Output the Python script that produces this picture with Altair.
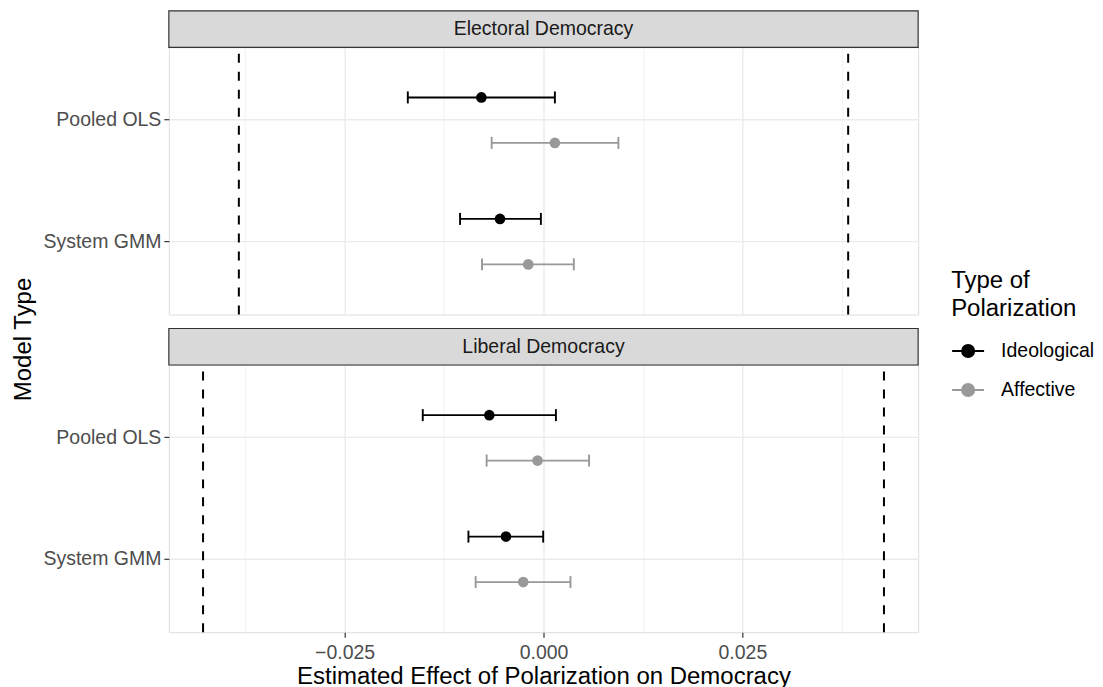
import altair as alt
import pandas as pd

FONT = "Liberation Sans"

panels = ["Electoral Democracy", "Liberal Democracy"]
models = ["Pooled OLS", "System GMM"]
types = ["Ideological", "Affective"]

# rows ordered: panel -> model -> type
row_panel = ["Electoral Democracy"] * 4 + ["Liberal Democracy"] * 4
row_model = ["Pooled OLS", "Pooled OLS", "System GMM", "System GMM"] * 2
row_type = ["Ideological", "Affective"] * 4
est = [-0.00781, 0.00143, -0.00547, -0.00192, -0.00681, -0.00075, -0.00472, -0.00255]
lo = [-0.01706, -0.00652, -0.01049, -0.00773, -0.01518, -0.00715, -0.00944, -0.00853]
hi = [0.00143, 0.00941, -0.00033, 0.00381, 0.00156, 0.00573, -0.00004, 0.00339]

# dashed reference lines per panel
ref_panel = ["Electoral Democracy", "Electoral Democracy", "Liberal Democracy", "Liberal Democracy"]
ref_value = [-0.0383, 0.0383, -0.0428, 0.0428]

x_ticks = [-0.0375, -0.025, -0.0125, 0.0, 0.0125, 0.025, 0.0375]

df = pd.DataFrame({"panel": row_panel, "model": row_model, "type": row_type,
                   "est": est, "lo": lo, "hi": hi})
refs = pd.DataFrame({"panel": ref_panel, "value": ref_value})

W = 750
H = 267.5
SH = 36.5

MINOR = "abs(datum.value) % 0.025 > 0.001"

SYMBOL = "M-1,0L1,0M-0.38,0A0.38,0.38,0,1,0,0.38,0A0.38,0.38,0,1,0,-0.38,0Z"

COLORS = ["#000000", "#999999"]


def make_legend():
    return alt.Legend(
        title=["Type of", "Polarization"], orient="none", legendX=783, legendY=222,
        padding=0,
        symbolType=SYMBOL, symbolSize=1024, symbolStrokeWidth=1.9, symbolOpacity=1,
        labelFontSize=19.5, labelFont=FONT, labelColor="#000000", labelOffset=16,
        titleFontSize=24, titleFont=FONT, titleFontWeight="normal", titleColor="#000000",
        titleLineHeight=28, titlePadding=13, rowPadding=12,
    )


def x_axis(show):
    common = dict(
        values=x_ticks, grid=True, gridColor="#EBEBEB",
        gridWidth={"condition": {"test": MINOR, "value": 0.7}, "value": 1.4},
        domain=False,
    )
    if show:
        return alt.Axis(
            format=".3f", labelExpr=MINOR + " ? '' : datum.label",
            labelFontSize=19.5, labelColor="#4D4D4D", labelFont=FONT, labelPadding=6,
            ticks=True, tickSize=5, tickColor="#333333", tickWidth=1.2,
            tickOpacity={"condition": {"test": MINOR, "value": 0}, "value": 1},
            title="Estimated Effect of Polarization on Democracy",
            titleFontSize=24, titleFont=FONT, titleFontWeight="normal",
            titleColor="#000000", titlePadding=3,
            **common,
        )
    return alt.Axis(labels=False, ticks=False, title=None, minExtent=0, maxExtent=0, **common)


y_axis = alt.Axis(
    bandPosition=0.5, grid=True, gridColor="#EBEBEB", gridWidth=1.4,
    ticks=True, tickSize=5, tickColor="#333333", tickWidth=1.2,
    labelFontSize=19.5, labelColor="#4D4D4D", labelFont=FONT, labelPadding=3,
    domain=False, title=None,
)


def make_panel(pname, show_x):
    data = df[df["panel"] == pname]
    rdata = refs[refs["panel"] == pname]
    sdata = pd.DataFrame({"panel": [pname]})
    xs = alt.Scale(domain=[-0.0471, 0.0471], nice=False, zero=False)
    ax = x_axis(show_x)
    y = alt.Y("model:N", scale=alt.Scale(domain=models, paddingOuter=0.1, paddingInner=0),
              axis=y_axis, title=None)
    yo = alt.YOffset("type:N", scale=alt.Scale(domain=types, paddingOuter=0.336, paddingInner=0))
    col = alt.Color("type:N", scale=alt.Scale(domain=types, range=COLORS), legend=make_legend())

    strip_rect = alt.Chart(sdata).mark_rect(fill="#D9D9D9", stroke="#333333", strokeWidth=1.2).encode(
        x=alt.value(0), x2=alt.value(W), y=alt.value(-SH), y2=alt.value(0))
    strip_text = alt.Chart(sdata).mark_text(fontSize=19.5, font=FONT, color="#1A1A1A").encode(
        text="panel:N", x=alt.value(W / 2), y=alt.value(-SH / 2))

    base = alt.Chart(data)
    vlines = alt.Chart(rdata).mark_rule(color="#000000", strokeWidth=2, strokeDash=[9, 9]).encode(
        x=alt.X("value:Q", scale=xs, axis=ax),
        y=alt.value(H), y2=alt.value(0),
    )
    bars = base.mark_rule(strokeWidth=1.9).encode(
        x=alt.X("lo:Q", scale=xs, axis=ax), x2="hi:Q", y=y, yOffset=yo, color=col)
    cap_lo = base.mark_tick(thickness=1.9, size=12, opacity=1).encode(
        x=alt.X("lo:Q", scale=xs, axis=ax), y=y, yOffset=yo, color=col)
    cap_hi = base.mark_tick(thickness=1.9, size=12, opacity=1).encode(
        x=alt.X("hi:Q", scale=xs, axis=ax), y=y, yOffset=yo, color=col)
    pts = base.mark_point(filled=True, size=113, opacity=1).encode(
        x=alt.X("est:Q", scale=xs, axis=ax), y=y, yOffset=yo, color=col)
    return alt.layer(vlines, bars, cap_lo, cap_hi, pts, strip_rect, strip_text).properties(
        width=W, height=H)


chart = alt.vconcat(make_panel(panels[0], False), make_panel(panels[1], True), spacing=11).properties(
    title=alt.TitleParams("Model Type", orient="left", anchor="middle", fontSize=24,
                          font=FONT, fontWeight="normal", color="#000000", offset=6, dx=10),
    padding={"left": 4, "top": 1, "right": 0, "bottom": 0},
).configure_view(
    stroke="#333333", strokeWidth=1.2
).configure(font=FONT, background="white")

chart.save("out.html", embed_options={"renderer": "svg", "actions": False})
